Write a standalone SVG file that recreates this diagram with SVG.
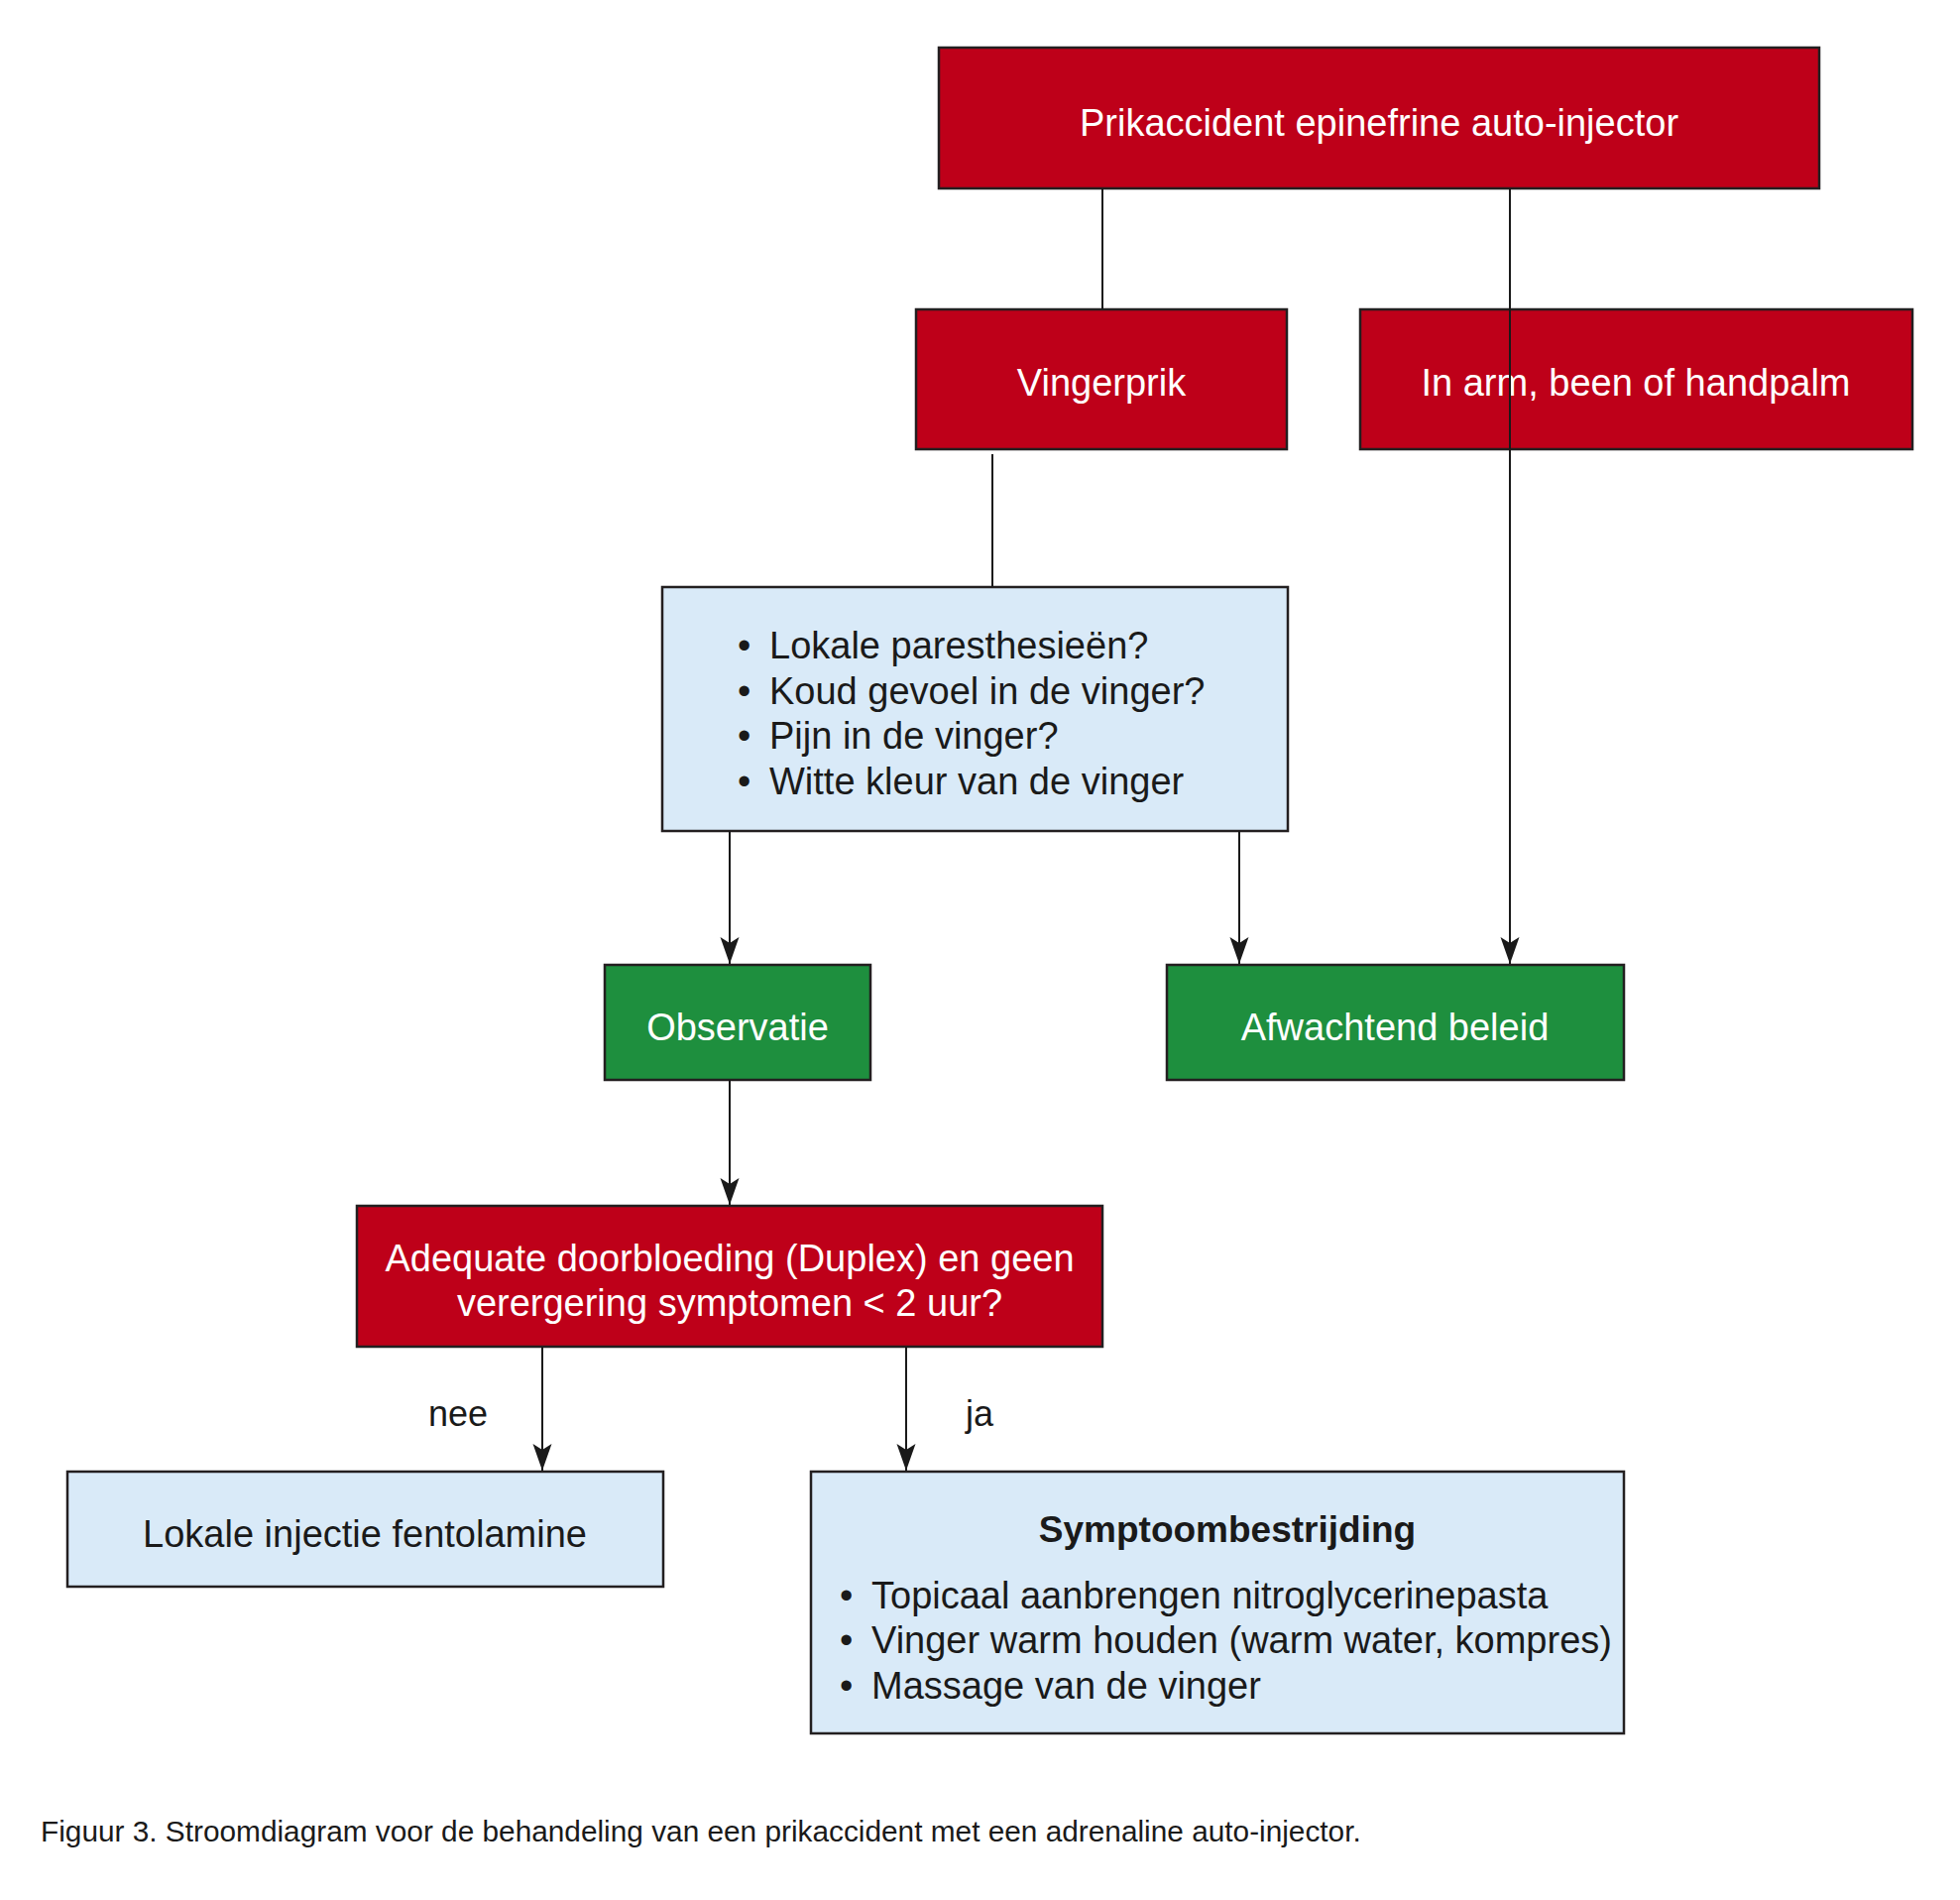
<svg xmlns="http://www.w3.org/2000/svg" width="1977" height="1916" viewBox="0 0 1977 1916">
<style>
.box{stroke:#231f20;stroke-width:2.5}
.red{fill:#be0019}
.green{fill:#1e8f3e}
.blue{fill:#d9eaf8}
text{font-family:"Liberation Sans",Arial,sans-serif;font-size:38px}
.w{fill:#ffffff}
.k{fill:#1a1a1a}
.c{text-anchor:middle}
.ln{stroke:#1a1a1a;stroke-width:2;fill:none}
</style>
<defs>
<marker id="arr" markerUnits="userSpaceOnUse" viewBox="0 -10 28 20" markerWidth="28" markerHeight="20" refX="27" refY="0" orient="auto">
<path d="M0,-9.5 L27,0 L0,9.5 L6,0 Z" fill="#1a1a1a"/>
</marker>
</defs>
<rect width="1977" height="1916" fill="#ffffff"/>

<g id="node-start">
<rect class="box red" x="947" y="48" width="888" height="142"/>
<text class="w c" x="1391" y="137">Prikaccident epinefrine auto-injector</text>
</g>
<g id="node-vingerprik">
<rect class="box red" x="924" y="312" width="374" height="141"/>
<text class="w c" x="1111" y="399">Vingerprik</text>
</g>
<g id="node-arm">
<rect class="box red" x="1372" y="312" width="557" height="141"/>
<text class="w c" x="1650" y="399">In arm, been of handpalm</text>
</g>
<g id="node-symptoms">
<rect class="box blue" x="668" y="592" width="631" height="246"/>
<text class="k" y="664"><tspan x="744">•</tspan><tspan x="776">Lokale paresthesieën?</tspan></text>
<text class="k" y="710"><tspan x="744">•</tspan><tspan x="776">Koud gevoel in de vinger?</tspan></text>
<text class="k" y="755"><tspan x="744">•</tspan><tspan x="776">Pijn in de vinger?</tspan></text>
<text class="k" y="801"><tspan x="744">•</tspan><tspan x="776">Witte kleur van de vinger</tspan></text>
</g>
<g id="node-observatie">
<rect class="box green" x="610" y="973" width="268" height="116"/>
<text class="w c" x="744" y="1049">Observatie</text>
</g>
<g id="node-afwachtend">
<rect class="box green" x="1177" y="973" width="461" height="116"/>
<text class="w c" x="1407" y="1049">Afwachtend beleid</text>
</g>
<g id="node-question">
<rect class="box red" x="360" y="1216" width="752" height="142"/>
<text class="w c" x="736" y="1282">Adequate doorbloeding (Duplex) en geen</text>
<text class="w c" x="736" y="1327">verergering symptomen &lt; 2 uur?</text>
</g>
<g id="node-fentolamine">
<rect class="box blue" x="68" y="1484" width="601" height="116"/>
<text class="k c" x="368" y="1560">Lokale injectie fentolamine</text>
</g>
<g id="node-symptoombestrijding">
<rect class="box blue" x="818" y="1484" width="820" height="264"/>
<text class="k c" x="1238" y="1555" style="font-weight:bold;font-size:37px">Symptoombestrijding</text>
<text class="k" y="1622"><tspan x="847">•</tspan><tspan x="879">Topicaal aanbrengen nitroglycerinepasta</tspan></text>
<text class="k" y="1667"><tspan x="847">•</tspan><tspan x="879">Vinger warm houden (warm water, kompres)</tspan></text>
<text class="k" y="1713"><tspan x="847">•</tspan><tspan x="879">Massage van de vinger</tspan></text>
</g>

<g id="connectors">
<line class="ln" x1="1112" y1="190" x2="1112" y2="312"/>
<line class="ln" x1="1523" y1="190" x2="1523" y2="972" marker-end="url(#arr)"/>
<line class="ln" x1="1001" y1="458" x2="1001" y2="592"/>
<line class="ln" x1="736" y1="838" x2="736" y2="972" marker-end="url(#arr)"/>
<line class="ln" x1="1250" y1="838" x2="1250" y2="972" marker-end="url(#arr)"/>
<line class="ln" x1="736" y1="1089" x2="736" y2="1215" marker-end="url(#arr)"/>
<line class="ln" x1="547" y1="1358" x2="547" y2="1483" marker-end="url(#arr)"/>
<line class="ln" x1="914" y1="1358" x2="914" y2="1483" marker-end="url(#arr)"/>
<text class="k" x="432" y="1438" style="font-size:36px">nee</text>
<text class="k" x="974" y="1438" style="font-size:36px">ja</text>
</g>

<text class="k" x="41" y="1857" style="font-size:29.8px">Figuur 3. Stroomdiagram voor de behandeling van een prikaccident met een adrenaline auto-injector.</text>
</svg>
